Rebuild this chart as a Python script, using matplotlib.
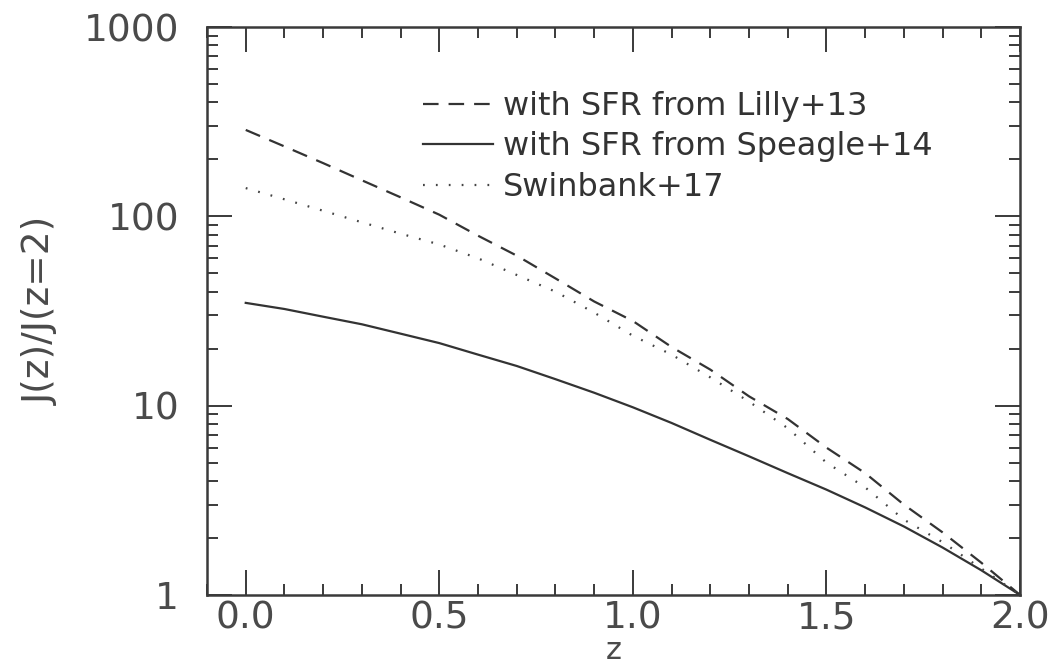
import numpy as np
import matplotlib.pyplot as plt
from matplotlib.ticker import LogLocator, MultipleLocator, FixedLocator

plt.rcParams['font.family'] = ['DejaVu Sans']

# redshift grid and J(z)/J(z=2)
z = [0.0, 0.1, 0.2, 0.3, 0.4, 0.5, 0.6, 0.7, 0.8, 0.9, 1.0,
     1.1, 1.2, 1.3, 1.4, 1.5, 1.6, 1.7, 1.8, 1.9, 2.0]
j_lilly = [286, 234, 191, 155, 126, 102, 79, 62, 47, 35.5, 28,
           20.4, 15.5, 11.2, 8.5, 6.0, 4.4, 3.0, 2.14, 1.48, 1.0]
j_speagle = [34.9, 32.4, 29.5, 26.9, 24.0, 21.4, 18.6, 16.2, 13.8, 11.7, 9.8,
             8.1, 6.6, 5.4, 4.4, 3.6, 2.9, 2.3, 1.78, 1.35, 1.0]
j_swinbank = [141, 123, 107, 93, 81, 71, 60, 49, 40, 31, 23.4,
              18.6, 14.1, 10.5, 7.6, 5.0, 3.7, 2.5, 1.9, 1.38, 1.0]

labels = ["with SFR from Lilly+13", "with SFR from Speagle+14", "Swinbank+17"]
xticks = [0.0, 0.5, 1.0, 1.5, 2.0]
xticklabels = ["0.0", "0.5", "1.0", "1.5", "2.0"]
yticks = [1, 10, 100, 1000]
yticklabels = ["1", "10", "100", "1000"]

ink = '#3a3a3a'
txt = '#4a4a4a'
fig = plt.figure(figsize=(10.53, 6.67), dpi=100)
ax = fig.add_axes([0.1966, 0.108, 0.7721, 0.8515])

ax.plot(z, j_lilly, color='#333333', lw=1.6, dashes=(7, 4.5), label=labels[0])
ax.plot(z, j_speagle, color='#333333', lw=1.6, label=labels[1])
ax.plot(z, j_swinbank, color='#444444', lw=1.6, dashes=(0.8, 5), label=labels[2])

ax.set_yscale('log')
ax.set_xlim(-0.1, 2.0)
ax.set_ylim(1, 1000)

ax.xaxis.set_major_locator(FixedLocator(xticks))
ax.set_xticklabels(xticklabels)
ax.xaxis.set_minor_locator(MultipleLocator(0.1))
ax.yaxis.set_major_locator(FixedLocator(yticks))
ax.set_yticklabels(yticklabels)
ax.yaxis.set_minor_locator(LogLocator(base=10, subs=np.arange(2, 10)))

ax.tick_params(which='both', direction='in', top=True, right=True,
               color=ink, width=1.4, labelsize=27, labelcolor=txt)
ax.tick_params(which='major', length=18)
ax.tick_params(which='minor', length=8)
ax.tick_params(axis='x', pad=4)
ax.tick_params(axis='y', pad=20)
for s in ax.spines.values():
    s.set_color(ink)
    s.set_linewidth(1.8)

ax.set_xlabel("z", fontsize=22, color=txt, va='bottom')
ax.xaxis.set_label_coords(0.5, -0.124)
ax.set_ylabel("J(z)/J(z=2)", fontsize=27, color=txt, labelpad=18)

leg = ax.legend(loc='upper left', bbox_to_anchor=(0.25, 0.91), frameon=False,
                fontsize=23, handlelength=2.2, handletextpad=0.3,
                labelspacing=0.3, borderaxespad=0)
for t in leg.get_texts():
    t.set_color('#333333')

fig.savefig("out.png", dpi=100)
